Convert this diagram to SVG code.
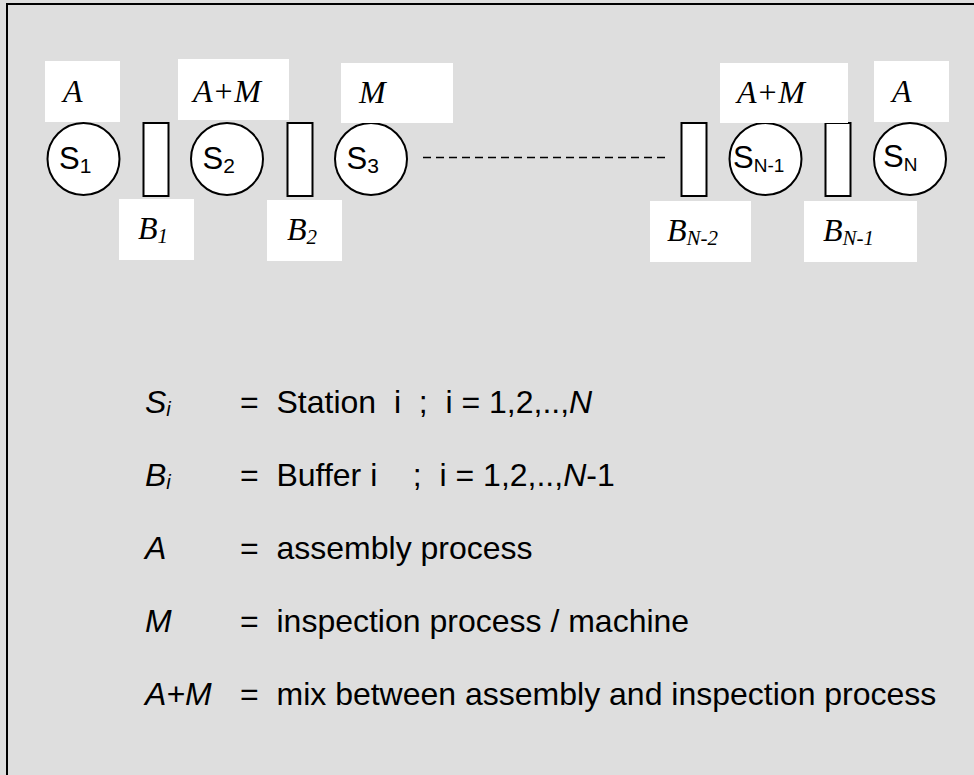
<svg xmlns="http://www.w3.org/2000/svg" width="974" height="775" viewBox="0 0 974 775">
<style>
.st{fill:#ffffff;stroke:#000000;stroke-width:2}
.lb{fill:#ffffff}
.tl{font-family:"Liberation Serif","Times New Roman",serif;font-style:italic;font-size:32px;fill:#000}
.bs{font-size:21px}
.sn{font-family:"Liberation Sans",Arial,sans-serif;font-size:31px;fill:#000}
.sub{font-size:21px}
.subn{font-size:19px}
.lg{font-family:"Liberation Sans",Arial,sans-serif;font-size:32px;fill:#000;white-space:pre}
.it{font-style:italic}
.li{font-size:20px}
</style>
<rect x="0" y="0" width="974" height="775" fill="#dedede"/>
<rect x="7" y="4" width="1000" height="800" fill="none" stroke="#000" stroke-width="2"/>
<g id="connectors">
<line x1="423" y1="157.5" x2="668" y2="157.5" stroke="#000" stroke-width="1.5" stroke-dasharray="8,5"/>
</g>
<g id="S1"><circle class="st" cx="83.5" cy="159" r="36"/><text class="sn" x="59" y="169">S<tspan class="sub" dy="4">1</tspan></text></g>
<g id="B1"><rect class="st" x="143.5" y="123" width="25" height="73"/></g>
<g id="S2"><circle class="st" cx="227" cy="159" r="36"/><text class="sn" x="202.5" y="169">S<tspan class="sub" dy="4">2</tspan></text></g>
<g id="B2"><rect class="st" x="287.5" y="123" width="25" height="73"/></g>
<g id="S3"><circle class="st" cx="371" cy="159" r="36"/><text class="sn" x="346.5" y="169">S<tspan class="sub" dy="4">3</tspan></text></g>
<g id="BN-2"><rect class="st" x="681.5" y="123" width="25" height="73"/></g>
<g id="SN-1"><circle class="st" cx="765.5" cy="159" r="36"/><text class="sn" x="733" y="168">S<tspan class="subn" dy="4">N-1</tspan></text></g>
<g id="BN-1"><rect class="st" x="825.5" y="123" width="25" height="73"/></g>
<g id="SN"><circle class="st" cx="910" cy="159" r="36"/><text class="sn" x="883" y="167">S<tspan class="subn" dy="4">N</tspan></text></g>
<g id="label-A1"><rect class="lb" x="45" y="61" width="75" height="61"/><text class="tl" x="63" y="102">A</text></g>
<g id="label-AM1"><rect class="lb" x="178" y="59" width="111" height="61"/><text class="tl" x="193" y="102">A+M</text></g>
<g id="label-M"><rect class="lb" x="341" y="63" width="112" height="60"/><text class="tl" x="359" y="103">M</text></g>
<g id="label-AM2"><rect class="lb" x="720" y="63" width="128" height="60"/><text class="tl" x="737" y="103">A+M</text></g>
<g id="label-A2"><rect class="lb" x="874" y="61" width="75" height="61"/><text class="tl" x="892" y="102">A</text></g>
<g id="label-B1"><rect class="lb" x="119" y="199" width="75" height="61"/><text class="tl" x="138" y="239">B<tspan class="bs" dy="4">1</tspan></text></g>
<g id="label-B2"><rect class="lb" x="267" y="200" width="75" height="61"/><text class="tl" x="287" y="240">B<tspan class="bs" dy="4">2</tspan></text></g>
<g id="label-BN-2"><rect class="lb" x="650" y="201" width="101" height="61"/><text class="tl" x="667" y="241">B<tspan class="bs" dy="4">N-2</tspan></text></g>
<g id="label-BN-1"><rect class="lb" x="804" y="201" width="113" height="61"/><text class="tl" x="823" y="241">B<tspan class="bs" dy="4">N-1</tspan></text></g>
<g id="legend">
<text class="lg it" x="145" y="413">S<tspan class="li" dy="3">i</tspan></text>
<text class="lg" x="240" y="413" xml:space="preserve">=  Station  i  ;  i = 1,2,..,<tspan class="it">N</tspan></text>
<text class="lg it" x="145" y="485.5">B<tspan class="li" dy="3">i</tspan></text>
<text class="lg" x="240" y="485.5" xml:space="preserve">=  Buffer i    ;  i = 1,2,..,<tspan class="it">N</tspan>-1</text>
<text class="lg it" x="145" y="558.5">A</text>
<text class="lg" x="240" y="558.5" xml:space="preserve">=  assembly process</text>
<text class="lg it" x="145" y="632">M</text>
<text class="lg" x="240" y="632" xml:space="preserve">=  inspection process / machine</text>
<text class="lg it" x="145" y="705">A+M</text>
<text class="lg" x="240" y="705" xml:space="preserve">=  mix between assembly and inspection process</text>
</g>
</svg>
